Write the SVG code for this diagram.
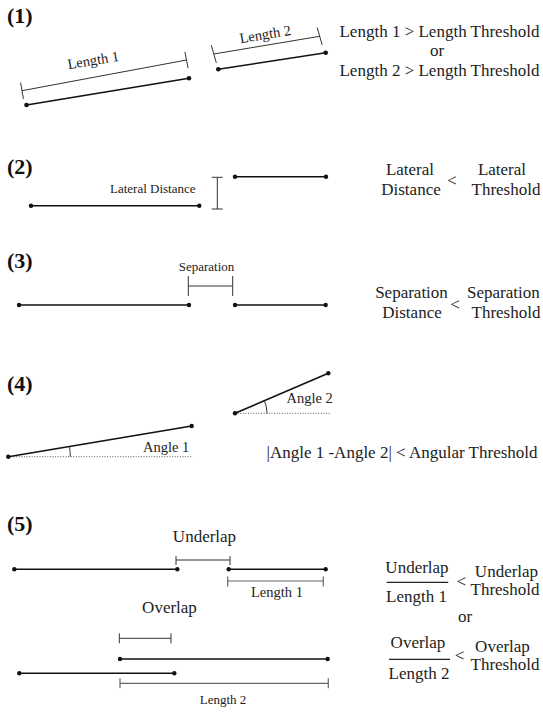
<svg xmlns="http://www.w3.org/2000/svg" width="543" height="713" viewBox="0 0 543 713">
<style>
text{font-family:"Liberation Serif","Times New Roman",serif;fill:#222}
.lbl{font-size:22px;font-weight:bold;fill:#111}
.f17{font-size:17px}
.f14{font-size:14.5px}
.f13{font-size:13px}
.mid{text-anchor:middle}
.seg{stroke:#111;stroke-width:1.6;fill:none}
.dim{stroke:#333;stroke-width:1;fill:none}
.gray{stroke:#666;stroke-width:1.2;fill:none}
.dot{fill:#111}
.dotted{stroke:#555;stroke-width:1;stroke-dasharray:1 1.6;fill:none}
.frac{stroke:#222;stroke-width:1.2}
</style>

<g id="section1">
<text class="lbl" x="7" y="23">(1)</text>
<g id="seg1a">
<line class="seg" x1="26.5" y1="105" x2="189" y2="78.3"/>
<circle class="dot" cx="26.5" cy="105" r="2.3"/><circle class="dot" cx="189" cy="78.3" r="2.3"/>
</g>
<g id="dim1a">
<line class="dim" x1="22" y1="90.7" x2="186.5" y2="60"/>
<line class="dim" x1="20.6" y1="82.5" x2="23.4" y2="98.9"/>
<line class="dim" x1="184.9" y1="51.8" x2="188.1" y2="68.2"/>
<text class="f14 mid" transform="translate(94,65) rotate(-9.5)">Length 1</text>
</g>
<g id="seg1b">
<line class="seg" x1="218.3" y1="69.3" x2="325.7" y2="52.7"/>
<circle class="dot" cx="218.3" cy="69.3" r="2.3"/><circle class="dot" cx="325.7" cy="52.7" r="2.3"/>
</g>
<g id="dim1b">
<line class="dim" x1="213.8" y1="54" x2="319.7" y2="36.3"/>
<line class="dim" x1="211.3" y1="45.2" x2="216.3" y2="62.8"/>
<line class="dim" x1="317.2" y1="27.6" x2="322.2" y2="45"/>
<text class="f14 mid" transform="translate(266,39) rotate(-9.5)">Length 2</text>
</g>
<g id="rule1">
<text class="f17 mid" x="439.5" y="37">Length 1 &gt; Length Threshold</text>
<text class="f17 mid" x="437" y="56">or</text>
<text class="f17 mid" x="439.5" y="76">Length 2 &gt; Length Threshold</text>
</g>
</g>

<g id="section2">
<text class="lbl" x="7" y="174">(2)</text>
<g id="seg2a">
<line class="seg" x1="31" y1="205.7" x2="199.3" y2="205.7"/>
<circle class="dot" cx="31" cy="205.7" r="2.2"/><circle class="dot" cx="199.3" cy="205.7" r="2.2"/>
</g>
<g id="seg2b">
<line class="seg" x1="235" y1="176.7" x2="326" y2="176.7"/>
<circle class="dot" cx="235" cy="176.7" r="2.2"/><circle class="dot" cx="326" cy="176.7" r="2.2"/>
</g>
<g id="lateral">
<line class="dim" x1="217.3" y1="177.3" x2="217.3" y2="209"/>
<line class="dim" x1="211.7" y1="177.3" x2="222.7" y2="177.3"/>
<line class="dim" x1="211.7" y1="209" x2="222.7" y2="209"/>
<text class="f13" x="110" y="192.5">Lateral Distance</text>
</g>
<g id="rule2">
<text class="f17 mid" x="410" y="175">Lateral</text>
<text class="f17 mid" x="411" y="195">Distance</text>
<text class="f17 mid" x="451.7" y="186">&lt;</text>
<text class="f17 mid" x="502" y="175">Lateral</text>
<text class="f17 mid" x="506" y="195">Threshold</text>
</g>
</g>

<g id="section3">
<text class="lbl" x="7" y="268">(3)</text>
<g id="seg3a">
<line class="seg" x1="19" y1="305" x2="189" y2="305"/>
<circle class="dot" cx="19" cy="305" r="2.2"/><circle class="dot" cx="189" cy="305" r="2.2"/>
</g>
<g id="seg3b">
<line class="seg" x1="235" y1="305" x2="325.7" y2="305"/>
<circle class="dot" cx="235" cy="305" r="2.2"/><circle class="dot" cx="325.7" cy="305" r="2.2"/>
</g>
<g id="separation">
<line class="dim" x1="188.3" y1="286" x2="232.7" y2="286"/>
<line class="dim" x1="188.3" y1="276" x2="188.3" y2="296"/>
<line class="dim" x1="232.7" y1="276" x2="232.7" y2="296"/>
<text class="f13 mid" x="206.5" y="271">Separation</text>
</g>
<g id="rule3">
<text class="f17 mid" x="411.5" y="298">Separation</text>
<text class="f17 mid" x="412" y="318">Distance</text>
<text class="f17 mid" x="455" y="309.5">&lt;</text>
<text class="f17 mid" x="503.3" y="298">Separation</text>
<text class="f17 mid" x="506" y="318">Threshold</text>
</g>
</g>

<g id="section4">
<text class="lbl" x="7" y="391">(4)</text>
<g id="seg4a">
<line class="dotted" x1="8.3" y1="456.7" x2="193" y2="456.7"/>
<line class="seg" x1="8.3" y1="456.7" x2="191.7" y2="426"/>
<circle class="dot" cx="8.3" cy="456.7" r="2.2"/><circle class="dot" cx="191.7" cy="426" r="2.2"/>
<path class="dim" d="M70.3 456.7 A62 62 0 0 0 69.45 446.5"/>
<text class="f14" x="143" y="451.7">Angle 1</text>
</g>
<g id="seg4b">
<line class="dotted" x1="235" y1="413.3" x2="330" y2="413.3"/>
<line class="seg" x1="235" y1="413.3" x2="328.3" y2="373.3"/>
<circle class="dot" cx="235" cy="413.3" r="2.2"/><circle class="dot" cx="328.3" cy="373.3" r="2.2"/>
<path class="dim" d="M267 413.3 A32 32 0 0 0 264.4 400.7"/>
<text class="f14" x="286.5" y="403.3">Angle 2</text>
</g>
<g id="rule4">
<text class="f17" x="266.5" y="458">|Angle 1 -Angle 2| &lt; Angular Threshold</text>
</g>
</g>

<g id="section5">
<text class="lbl" x="7" y="531">(5)</text>
<g id="seg5a">
<line class="seg" x1="14.3" y1="569.3" x2="177.3" y2="569.3"/>
<circle class="dot" cx="14.3" cy="569.3" r="2.2"/><circle class="dot" cx="177.3" cy="569.3" r="2.2"/>
</g>
<g id="seg5b">
<line class="seg" x1="228.7" y1="569.3" x2="325.7" y2="569.3"/>
<circle class="dot" cx="228.7" cy="569.3" r="2.2"/><circle class="dot" cx="325.7" cy="569.3" r="2.2"/>
</g>
<g id="underlap">
<text class="f17 mid" x="204.5" y="541.5">Underlap</text>
<line class="dim" x1="176" y1="560" x2="230" y2="560"/>
<line class="dim" x1="176" y1="556" x2="176" y2="565"/>
<line class="dim" x1="230" y1="556" x2="230" y2="565"/>
</g>
<g id="len1">
<line class="gray" x1="227.7" y1="581" x2="323.3" y2="581"/>
<line class="gray" x1="227.7" y1="576.5" x2="227.7" y2="586.5"/>
<line class="gray" x1="323.3" y1="576.5" x2="323.3" y2="586.5"/>
<text class="f14 mid" x="277" y="596.7">Length 1</text>
</g>
<g id="overlap">
<text class="f17 mid" x="169.5" y="613.3">Overlap</text>
<line class="dim" x1="119.3" y1="638.3" x2="171" y2="638.3"/>
<line class="dim" x1="119.3" y1="633.3" x2="119.3" y2="643.3"/>
<line class="dim" x1="171" y1="633.3" x2="171" y2="643.3"/>
</g>
<g id="seg5c">
<line class="seg" x1="120" y1="659" x2="327.7" y2="659"/>
<circle class="dot" cx="120" cy="659" r="2.2"/><circle class="dot" cx="327.7" cy="659" r="2.2"/>
</g>
<g id="seg5d">
<line class="seg" x1="19.3" y1="673.3" x2="174.3" y2="673.3"/>
<circle class="dot" cx="19.3" cy="673.3" r="2.2"/><circle class="dot" cx="174.3" cy="673.3" r="2.2"/>
</g>
<g id="len2">
<line class="gray" x1="120" y1="683.3" x2="328.3" y2="683.3"/>
<line class="gray" x1="120" y1="678.3" x2="120" y2="688.3"/>
<line class="gray" x1="328.3" y1="678.3" x2="328.3" y2="688.3"/>
<text class="f13 mid" x="223" y="704">Length 2</text>
</g>
<g id="rule5">
<text class="f17 mid" x="417" y="573.3">Underlap</text>
<line class="frac" x1="386.7" y1="582.3" x2="448.3" y2="582.3"/>
<text class="f17 mid" x="416.5" y="601.7">Length 1</text>
<text class="f17 mid" x="461.3" y="587">&lt;</text>
<text class="f17 mid" x="506.5" y="576.7">Underlap</text>
<text class="f17 mid" x="505" y="595">Threshold</text>
<text class="f17 mid" x="465" y="621.7">or</text>
<text class="f17 mid" x="418" y="648.3">Overlap</text>
<line class="frac" x1="389" y1="659.3" x2="450" y2="659.3"/>
<text class="f17 mid" x="419" y="678.7">Length 2</text>
<text class="f17 mid" x="459.5" y="661.3">&lt;</text>
<text class="f17 mid" x="502.5" y="651.7">Overlap</text>
<text class="f17 mid" x="505" y="670">Threshold</text>
</g>
</g>
</svg>
